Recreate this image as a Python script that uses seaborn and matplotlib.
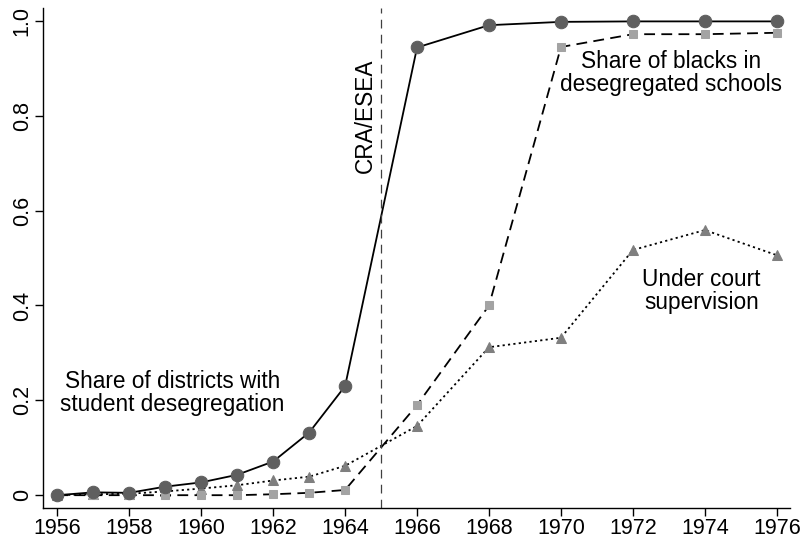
import pandas as pd
import matplotlib
matplotlib.use('Agg')
import matplotlib.pyplot as plt
import seaborn as sns

# Données
years = [1956, 1957, 1958, 1959, 1960, 1961, 1962, 1963, 1964,
         1966, 1968, 1970, 1972, 1974, 1976]
districts = [0.0, 0.006, 0.005, 0.018, 0.027, 0.043, 0.071, 0.132, 0.23,
             0.944, 0.991, 0.998, 0.999, 0.999, 0.999]
blacks = [0.0, 0.0, 0.0, 0.0, 0.0, 0.0, 0.002, 0.005, 0.011,
          0.19, 0.40, 0.945, 0.972, 0.972, 0.975]
court = [0.0, 0.002, 0.003, 0.008, 0.014, 0.021, 0.031, 0.039, 0.062,
         0.146, 0.312, 0.332, 0.517, 0.559, 0.506]
yticks = [0, 0.2, 0.4, 0.6, 0.8, 1.0]
ytick_labels = ['0', '0.2', '0.4', '0.6', '0.8', '1.0']
xticks = list(range(1956, 1977, 2))
event_year = 1965

df = pd.DataFrame({'year': years, 'districts': districts,
                   'blacks': blacks, 'court': court})

sns.set_style('white')
plt.rcParams['font.family'] = ['Liberation Sans', 'DejaVu Sans']
plt.rcParams['text.color'] = 'black'
plt.rcParams['xtick.color'] = 'black'
plt.rcParams['ytick.color'] = 'black'

fig = plt.figure(figsize=(8.01, 5.41), dpi=100)
ax = fig.add_axes([0.054, 0.061, 0.932, 0.924])

sns.lineplot(data=df, x='year', y='court', ax=ax, color='black',
             linestyle=(0, (1.2, 1.8)), linewidth=1.3, marker='^',
             markersize=7.5, markerfacecolor='#7f7f7f', markeredgecolor='#7f7f7f')
sns.lineplot(data=df, x='year', y='blacks', ax=ax, color='black',
             linestyle=(0, (6, 3.5)), linewidth=1.3, marker='s',
             markersize=6.3, markerfacecolor='#a3a3a3', markeredgecolor='#a3a3a3')
sns.lineplot(data=df, x='year', y='districts', ax=ax, color='black',
             linestyle='-', linewidth=1.3, marker='o',
             markersize=9, markerfacecolor='#5f5f5f', markeredgecolor='#5f5f5f')

ax.axvline(event_year, color='#404040', linestyle=(0, (7, 5)), linewidth=0.9)

fs = 16.3
ax.text(1964.55, 0.80, 'CRA/ESEA', rotation=90, ha='center', va='center',
        fontsize=fs)
ax.text(1959.2, 0.215, 'Share of districts with\nstudent desegregation',
        ha='center', va='center', fontsize=fs, linespacing=1.0)
ax.text(1973.05, 0.89, 'Share of blacks in\ndesegregated schools',
        ha='center', va='center', fontsize=fs, linespacing=1.0)
ax.text(1973.9, 0.43, 'Under court\nsupervision',
        ha='center', va='center', fontsize=fs, linespacing=1.0)

ax.set_xlim(1955.61, 1976.36)
ax.set_ylim(-0.027, 1.027)
ax.set_xticks(xticks)
ax.set_yticks(yticks)
ax.set_yticklabels(ytick_labels, rotation=90, va='center')
ax.set_xlabel('')
ax.set_ylabel('')
ax.tick_params(axis='both', direction='out', length=6, width=1,
               labelsize=15.5, color='black', labelcolor='black', pad=1.5)
ax.tick_params(axis='both', bottom=True, left=True)

sns.despine(ax=ax)
for s in ['left', 'bottom']:
    ax.spines[s].set_color('black')
    ax.spines[s].set_linewidth(1.0)

fig.savefig('out.png', dpi=100)
